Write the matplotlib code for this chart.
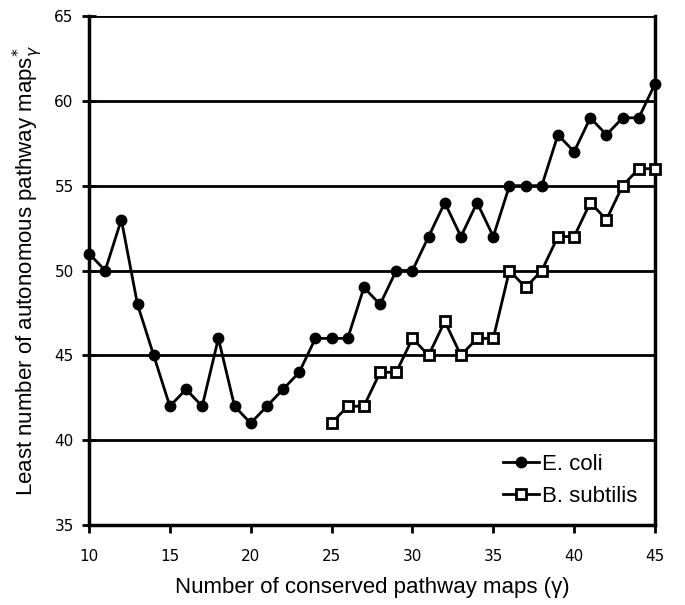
import matplotlib
matplotlib.use("Agg")
import matplotlib.pyplot as plt

x_ecoli = list(range(10, 46))
y_ecoli = [51, 50, 53, 48, 45, 42, 43, 42, 46, 42, 41, 42, 43, 44, 46, 46, 46, 49, 48, 50,
           50, 52, 54, 52, 54, 52, 55, 55, 55, 58, 57, 59, 58, 59, 59, 61]
x_bsub = list(range(25, 46))
y_bsub = [41, 42, 42, 44, 44, 46, 45, 47, 45, 46, 46, 50, 49, 50, 52, 52, 54, 53, 55, 56, 56]
xticks = [10, 15, 20, 25, 30, 35, 40, 45]
yticks = [35, 40, 45, 50, 55, 60, 65]

fig = plt.figure(figsize=(6.85, 6.05), dpi=100)
ax = fig.add_axes([89/685, 80/605, (655-89)/685, (525-16)/605])

for yv in yticks[1:]:
    ax.axhline(yv, color='black', lw=2, zorder=1)

ax.plot(x_ecoli, y_ecoli, color='black', lw=2, marker='o', ms=7.5, mfc='black', mec='black',
        label='E. coli', zorder=3, clip_on=False)
ax.plot(x_bsub, y_bsub, color='black', lw=2, marker='s', ms=6.5, mfc='white', mec='black', mew=2,
        label='B. subtilis', zorder=3, clip_on=False)

ax.set_xlim(10, 45)
ax.set_ylim(35, 65)
ax.set_xticks(xticks)
ax.set_yticks(yticks)
for s in ['left', 'bottom', 'right']:
    ax.spines[s].set_linewidth(2.5)
ax.spines['top'].set_visible(False)
ax.tick_params(axis='x', direction='out', width=2, length=6, labelsize=11, pad=11)
ax.tick_params(axis='y', direction='inout', width=2, length=10, labelsize=11, pad=6)
for lbl in ax.get_xticklabels() + ax.get_yticklabels():
    lbl.set_family('DejaVu Sans')

ax.set_xlabel('Number of conserved pathway maps (γ)', fontsize=16, family='Liberation Sans', labelpad=10)
ax.set_ylabel(r'Least number of autonomous pathway maps$^{*}_{\gamma}$', fontsize=16,
              family='Liberation Sans', labelpad=7)

leg = ax.legend(loc='lower right', frameon=False, handlelength=1.6, handletextpad=0.15,
                labelspacing=0.5, borderaxespad=0.4, prop={'family': 'Liberation Sans', 'size': 16})

fig.savefig('out.png', dpi=100)
